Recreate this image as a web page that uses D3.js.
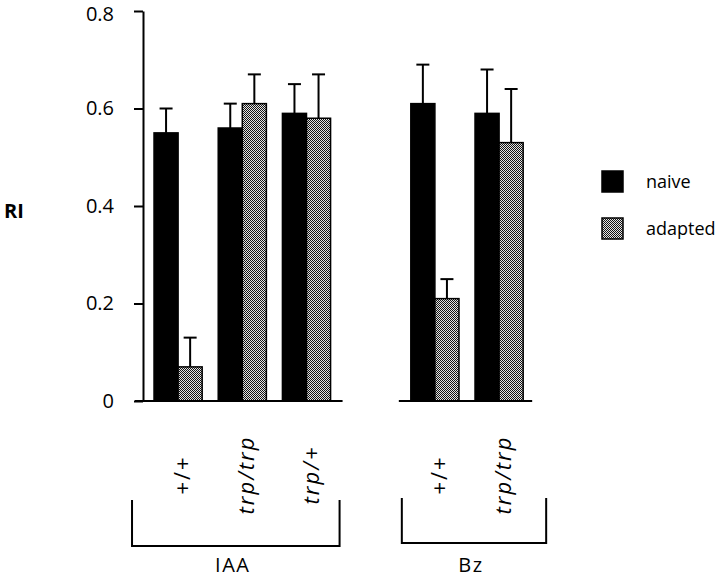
<!DOCTYPE html>
<html>
<head>
<meta charset="utf-8">
<script src="https://cdn.jsdelivr.net/npm/d3@7"></script>
<style>
  html, body { margin: 0; padding: 0; background: #fff; }
  svg { display: block; font-family: "Open Sans", sans-serif; font-weight: 500; }
</style>
</head>
<body>
<svg id="chart" width="720" height="579"></svg>
<script>
// ---- data ----
const genotypes = ["+/+", "trp/trp", "trp/+", "+/+", "trp/trp"];
const treatments = ["IAA", "IAA", "IAA", "Bz", "Bz"];
const naive = [0.55, 0.56, 0.59, 0.61, 0.59];
const naiveErr = [0.05, 0.05, 0.06, 0.08, 0.09];
const adapted = [0.07, 0.61, 0.58, 0.21, 0.53];
const adaptedErr = [0.06, 0.06, 0.09, 0.04, 0.11];
const seriesNames = ["naive", "adapted"];
const yTicks = [0, 0.2, 0.4, 0.6, 0.8];
const groupNames = ["IAA", "Bz"];

// ---- layout ----
const svg = d3.select("#chart");
const axisX = 143;
const y = d3.scaleLinear().domain([0, 0.8]).range([401, 11]);

// slots: one per genotype, plus an empty slot between treatment groups
const slots = [];
genotypes.forEach((g, i) => {
  if (i > 0 && treatments[i] !== treatments[i - 1]) slots.push("gap");
  slots.push(treatments[i] + "|" + g + "|" + i);
});
const x = d3.scaleBand().domain(slots).range([146, 531.2])
  .paddingInner(0.25).paddingOuter(0.125);
const xs = d3.scaleBand().domain(seriesNames).range([0, x.bandwidth()]);
const slotOf = i => slots.find(s => s.endsWith("|" + i));

// pattern for "adapted"
const defs = svg.append("defs");
const pat = defs.append("pattern").attr("id", "checker")
  .attr("patternUnits", "userSpaceOnUse").attr("width", 2).attr("height", 2);
pat.append("rect").attr("width", 2).attr("height", 2).attr("fill", "#e4e4e4");
pat.append("rect").attr("x", 0).attr("y", 0).attr("width", 1).attr("height", 1).attr("fill", "#141414");
pat.append("rect").attr("x", 1).attr("y", 1).attr("width", 1).attr("height", 1).attr("fill", "#141414");

const fills = { naive: "#000", adapted: "url(#checker)" };

// ---- y axis ----
const yAxis = d3.axisLeft(y).tickValues(yTicks)
  .tickFormat(d => d === 0 ? "0" : d3.format(".1f")(d))
  .tickSize(9).tickSizeOuter(0).tickPadding(20);
const gy = svg.append("g").attr("transform", `translate(${axisX},0)`).call(yAxis);
gy.select(".domain").attr("stroke", "#000").attr("stroke-width", 2);
gy.selectAll(".tick line").attr("stroke", "#000").attr("stroke-width", 2);
gy.selectAll(".tick text").attr("font-size", 20).attr("fill", "#000")
  .attr("font-family", "Open Sans, sans-serif").attr("font-weight", 500)
  .attr("dy", d => d === 0.8 ? "0.45em" : "0.32em");

svg.append("text").attr("x", 4).attr("y", 218)
  .attr("font-size", 20).attr("font-weight", 700).text("RI");

// ---- bars ----
const rows = genotypes.map((g, i) => ({
  i, slot: slotOf(i),
  vals: [
    { s: "naive", v: naive[i], e: naiveErr[i] },
    { s: "adapted", v: adapted[i], e: adaptedErr[i] }
  ]
}));

const gBars = svg.append("g");
rows.forEach(r => {
  r.vals.forEach(d => {
    const bx = x(r.slot) + xs(d.s);
    const cx = bx + xs.bandwidth() / 2;
    // error bar (upper only)
    gBars.append("line").attr("x1", cx).attr("x2", cx)
      .attr("y1", y(d.v)).attr("y2", y(d.v + d.e))
      .attr("stroke", "#000").attr("stroke-width", 2);
    gBars.append("line").attr("x1", cx - 6.5).attr("x2", cx + 6.5)
      .attr("y1", y(d.v + d.e)).attr("y2", y(d.v + d.e))
      .attr("stroke", "#000").attr("stroke-width", 2);
    gBars.append("rect").attr("x", bx).attr("y", y(d.v))
      .attr("width", xs.bandwidth()).attr("height", y(0) - y(d.v))
      .attr("fill", fills[d.s]).attr("stroke", "#000").attr("stroke-width", 1.5);
  });
});

// ---- baselines & brackets per treatment group ----
const baseExt = { IAA: [axisX - 8, 12], Bz: [-12, 9] };
const bracketExt = { IAA: [-22, 9], Bz: [-9, 23] };
const bracketY = { IAA: [500, 546], Bz: [498, 543] };
groupNames.forEach(gName => {
  const idx = treatments.map((t, i) => t === gName ? i : -1).filter(i => i >= 0);
  const x0 = x(slotOf(idx[0]));
  const x1 = x(slotOf(idx[idx.length - 1])) + x.bandwidth();
  const bl = gName === "IAA" ? baseExt.IAA[0] : x0 + baseExt[gName][0];
  svg.append("line").attr("x1", bl).attr("x2", x1 + baseExt[gName][1])
    .attr("y1", y(0)).attr("y2", y(0)).attr("stroke", "#000").attr("stroke-width", 2);
  const L = x0 + bracketExt[gName][0], R = x1 + bracketExt[gName][1];
  const [t, b] = bracketY[gName];
  svg.append("path").attr("d", `M${L},${t}V${b}H${R}V${t}`)
    .attr("fill", "none").attr("stroke", "#000").attr("stroke-width", 2);
  svg.append("text").attr("x", (L + R) / 2 - 3).attr("y", 572)
    .attr("text-anchor", "middle").attr("font-size", 20)
    .attr("letter-spacing", 1.5).text(gName);
});

// ---- rotated genotype labels ----
rows.forEach(r => {
  const cx = x(r.slot) + x.bandwidth() / 2 + 3;
  const g = genotypes[r.i];
  const t = svg.append("text")
    .attr("transform", `translate(${cx},475) rotate(-90)`)
    .attr("text-anchor", "middle").attr("dominant-baseline", "central")
    .attr("font-size", 22).attr("letter-spacing", 2);
  if (g.includes("trp")) t.attr("font-style", "italic");
  t.text(g);
});

// ---- legend ----
const legend = svg.append("g");
seriesNames.forEach((s, i) => {
  const ly = 171 + i * 47;
  legend.append("rect").attr("x", 602).attr("y", ly).attr("width", 21).attr("height", 21)
    .attr("fill", fills[s]).attr("stroke", "#000").attr("stroke-width", 1.5);
  legend.append("text").attr("x", 646).attr("y", ly + 17)
    .attr("font-size", 18).text(s);
});
</script>
</body>
</html>
